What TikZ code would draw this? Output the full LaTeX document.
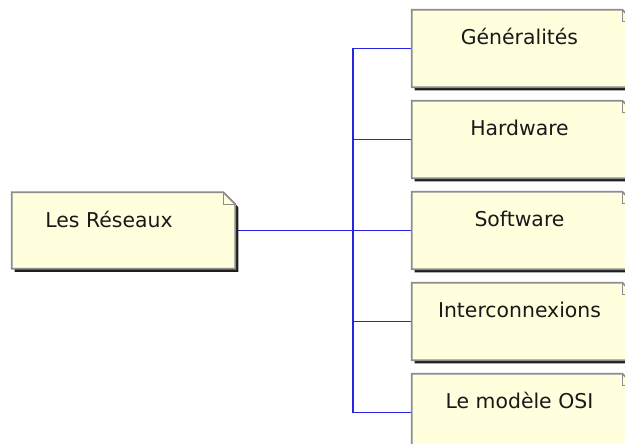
\documentclass[tikz,border=0pt]{standalone}
\usepackage{fontspec}
\setmainfont{DejaVu Sans}
\usetikzlibrary{calc}
\definecolor{notefill}{HTML}{FFFFDE}
\definecolor{noteline}{HTML}{8C8C8C}
\definecolor{noteshadow}{HTML}{1E1E1E}
\definecolor{connc}{HTML}{2626E0}
\newcommand\notebox[1]{%
  \fill[noteshadow] ($(#1.north west)+(3,3)$) -- ($(#1.north east)+(-9,3)$) -- ($(#1.north east)+(3,15)$) -- ($(#1.south east)+(3,3)$) -- ($(#1.south west)+(3,3)$) -- cycle;
  \draw[noteline, line width=1.3pt, fill=notefill] (#1.north west) -- ($(#1.north east)+(-12,0)$) -- ($(#1.north east)+(0,12)$) -- (#1.south east) -- (#1.south west) -- cycle;
  \draw[noteline, line width=1pt] ($(#1.north east)+(-12,0)$) -- ($(#1.north east)+(-12,12)$) -- ($(#1.north east)+(0,12)$);
}
\tikzset{
  boxl/.style={draw=none, inner sep=0pt, minimum width=223*0.75pt, minimum height=76*0.75pt},
  boxr/.style={draw=none, inner sep=0pt, minimum width=222*0.75pt, minimum height=77*0.75pt},
  txt/.style={anchor=base, inner sep=0pt, font=\fontsize{15.3pt}{18pt}\selectfont, text=black!90},
  conn/.style={draw=connc, line width=0.9pt}
}
\begin{document}
\begin{tikzpicture}[x=0.75pt, y=-0.75pt]
\useasboundingbox (0,0) rectangle (625,443);
\clip (0,0) rectangle (625,443);
\node[boxl] (L) at (123.5,230.5) {};
\node[boxr] (R1) at (523,48.5) {};
\node[boxr] (R2) at (523,139.5) {};
\node[boxr] (R3) at (523,230.5) {};
\node[boxr] (R4) at (523,321.5) {};
\node[boxr] (R5) at (523,412.5) {};
\coordinate (J) at (353,230.5);
% connectors
\draw[conn] (L.east) -- (R3.west);
\draw[conn] (R1.west) -- (R1.west -| J) -- (R5.west -| J) -- (R5.west);
\draw[conn] (R2.west) -- (R2.west -| J);
\draw[conn] (R4.west) -- (R4.west -| J);
% boxes
\notebox{L}
\notebox{R1}
\notebox{R2}
\notebox{R3}
\notebox{R4}
\notebox{R5}
% texts
\node[txt] (tL) at ($(L.north)+(-14.5,35)$) {Les Réseaux};
\node[txt] (t1) at ($(R1.north)+(-3.5,35)$) {Généralités};
\node[txt] (t2) at ($(R2.north)+(-3.5,35)$) {Hardware};
\node[txt] (t3) at ($(R3.north)+(-3.5,35)$) {Software};
\node[txt] (t4) at ($(R4.north)+(-3.5,35)$) {Interconnexions};
\node[txt] (t5) at ($(R5.north)+(-3.5,35)$) {Le modèle OSI};
\end{tikzpicture}
\end{document}
